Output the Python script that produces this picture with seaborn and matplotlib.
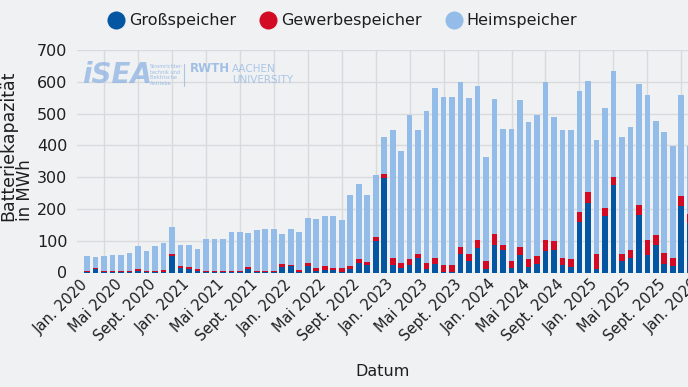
import matplotlib
matplotlib.use("Agg")
import matplotlib.pyplot as plt
import matplotlib.transforms as mtransforms
import seaborn as sns
import pandas as pd
import numpy as np
from matplotlib.lines import Line2D

# ---------------- data ----------------
month_names = ["Jan.", "Feb.", "März", "Apr.", "Mai", "Juni",
               "Juli", "Aug.", "Sept.", "Okt.", "Nov.", "Dez."]
years = [2020, 2021, 2022, 2023, 2024, 2025]
dates = [f"{m} {y}" for y in years for m in month_names]

gross = [1, 10, 1, 1, 1, 1, 5, 1, 1, 1, 51, 15,
         12, 6, 1, 1, 1, 1, 1, 10, 1, 1, 1, 17,
         19, 2, 21, 5, 8, 8, 2, 12, 29, 25, 100, 297,
         25, 14, 25, 46, 12, 26, 3, 2, 59, 36, 78, 12,
         88, 71, 14, 54, 18, 26, 67, 70, 24, 18, 158, 220,
         11, 177, 275, 37, 45, 180, 54, 86, 27, 21, 210, 155]
gewerbe = [3, 4, 3, 3, 3, 4, 5, 3, 4, 6, 7, 6,
           5, 4, 5, 3, 3, 4, 3, 6, 3, 5, 5, 11,
           5, 6, 8, 9, 11, 5, 13, 8, 14, 8, 12, 13,
           21, 16, 19, 13, 17, 21, 20, 23, 22, 23, 23, 23,
           32, 17, 22, 27, 26, 26, 34, 30, 22, 26, 31, 34,
           48, 26, 26, 22, 26, 31, 49, 33, 33, 26, 30, 29]
heim = [47, 35, 49, 50, 52, 57, 73, 63, 78, 86, 86, 65,
        71, 63, 98, 100, 101, 122, 123, 107, 131, 131, 131, 93,
        114, 119, 143, 155, 160, 164, 151, 225, 234, 211, 195, 116,
        403, 351, 453, 388, 479, 534, 528, 526, 518, 489, 485, 329,
        425, 363, 417, 461, 431, 443, 499, 390, 402, 405, 382, 349,
        359, 316, 334, 368, 386, 383, 457, 358, 383, 352, 320, 213]

tick_labels = ["Jan. 2020", "Mai 2020", "Sept. 2020", "Jan. 2021", "Mai 2021",
               "Sept. 2021", "Jan. 2022", "Mai 2022", "Sept. 2022", "Jan. 2023",
               "Mai 2023", "Sept. 2023", "Jan. 2024", "Mai 2024", "Sept. 2024",
               "Jan. 2025", "Mai 2025", "Sept. 2025", "Jan. 2026"]
series_names = ["Großspeicher", "Gewerbespeicher", "Heimspeicher"]

# ---------------- style ----------------
C_GROSS = "#0456A3"
C_GEW = "#D20A24"
C_HEIM = "#93BDE8"
BG = "#F0F1F3"
GRID = "#D8DADD"
TXT = "#1E1E1E"

sns.set_theme(style="white")
plt.rcParams["font.family"] = ["DejaVu Sans"]
plt.rcParams["text.color"] = TXT

W, H = 688, 387
fig = plt.figure(figsize=(W / 100, H / 100), dpi=100, facecolor=BG)

# axes placement in pixels (extends beyond right border like the reference)
x_left_px, y_zero_px, y_top_px = 77, 272.5, 50.0
xmin, xmax = -1.18, 72.6
px_per_bar = 8.49
ax_w_px = (xmax - xmin) * px_per_bar
ax = fig.add_axes([x_left_px / W, (H - y_zero_px) / H,
                   ax_w_px / W, (y_zero_px - y_top_px) / H])
ax.set_facecolor(BG)

df = pd.DataFrame({"Datum": dates, "gross": gross,
                   "gewerbe": gewerbe, "heim": heim})
df["total"] = df["gross"] + df["gewerbe"] + df["heim"]
df["gross_gew"] = df["gross"] + df["gewerbe"]

kw = dict(x="Datum", order=dates, errorbar=None, saturation=1,
          width=0.67, linewidth=0, ax=ax)
sns.barplot(data=df, y="total", color=C_HEIM, **kw)
sns.barplot(data=df, y="gross_gew", color=C_GEW, **kw)
sns.barplot(data=df, y="gross", color=C_GROSS, **kw)

ax.set_xlim(xmin, xmax)
ax.set_ylim(0, 700)
ax.set_yticks(range(0, 701, 100))
ax.tick_params(axis="y", labelsize=11.5, colors=TXT, length=0, pad=7)

ax.set_xticks(range(0, 73, 4))
ax.set_xticklabels(tick_labels, rotation=45, ha="right", fontsize=10.5)
ax.set_xticks(range(2, 73, 4), minor=True)
ax.tick_params(axis="x", which="both", length=0, pad=3, colors=TXT)
shift = mtransforms.ScaledTranslation(4 / 100, 0, fig.dpi_scale_trans)
for lab in ax.get_xticklabels():
    lab.set_transform(lab.get_transform() + shift)

ax.grid(False)
ax.yaxis.grid(True, color=GRID, linewidth=1)
ax.xaxis.grid(True, which="minor", color=GRID, linewidth=1)
ax.set_axisbelow(True)
for s in ax.spines.values():
    s.set_visible(False)

ax.set_ylabel("")
ax.set_xlabel("Datum", fontsize=11.5, color=TXT)
ax.xaxis.set_label_coords((383 - x_left_px) / ax_w_px,
                          -(364 - y_zero_px) / (y_zero_px - y_top_px))

fig.text(8 / W, 1 - 146 / H, "Batteriekapazität", rotation=90, fontsize=12.5,
         ha="center", va="center", color=TXT)
fig.text(25 / W, 1 - 190 / H, "in MWh", rotation=90, fontsize=12,
         ha="center", va="center", color=TXT)

# legend
handles = [Line2D([0], [0], marker="o", linestyle="", markersize=13,
                  markerfacecolor=c, markeredgewidth=0)
           for c in (C_GROSS, C_GEW, C_HEIM)]
fig.legend(handles, series_names, loc="center", bbox_to_anchor=(342 / W, 1 - 21 / H),
           ncol=3, frameon=False, fontsize=11.5, handletextpad=0.2,
           columnspacing=1.4, handlelength=1.2)

# faded logo watermark
LOGO = "#8DB3E2"
fig.text(117 / W, 1 - 75 / H, "iSEA", fontsize=20, fontweight="bold",
         fontstyle="italic", color=LOGO, alpha=0.75, ha="center", va="center")
fig.text(150 / W, 1 - 75 / H, "Stromrichter-\ntechnik und\nElektrische\nAntriebe",
         fontsize=3.6, color=LOGO, alpha=0.85, ha="left", va="center", linespacing=1.2)
fig.add_artist(Line2D([184 / W, 184 / W], [1 - 64 / H, 1 - 86 / H],
                      color=LOGO, alpha=0.7, linewidth=0.8))
fig.text(190 / W, 1 - 69 / H, "RWTH", fontsize=8.5, fontweight="bold",
         color=LOGO, alpha=0.8, ha="left", va="center")
fig.text(232 / W, 1 - 69 / H, "AACHEN", fontsize=7.5, color=LOGO, alpha=0.7,
         ha="left", va="center")
fig.text(232 / W, 1 - 80 / H, "UNIVERSITY", fontsize=7.5, color=LOGO, alpha=0.7,
         ha="left", va="center")

fig.savefig("out.png", dpi=100, facecolor=BG)
